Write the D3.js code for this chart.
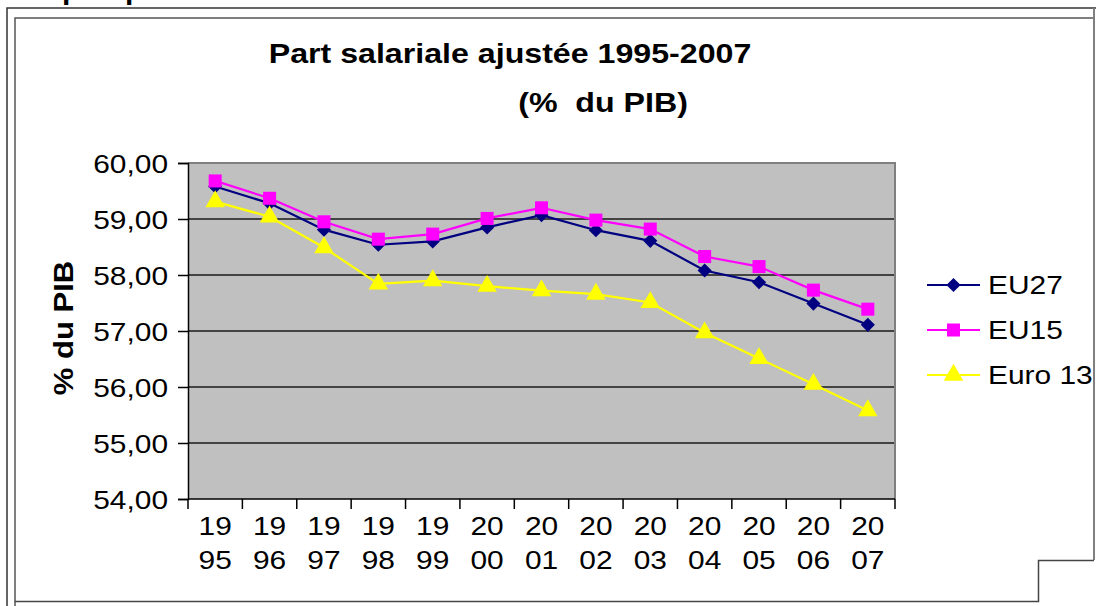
<!DOCTYPE html>
<html>
<head>
<meta charset="utf-8">
<script src="https://cdn.jsdelivr.net/npm/d3@7"></script>
<style>
  body { margin: 0; background: #fff; }
  svg { display: block; font-family: "Liberation Sans", Arial, sans-serif; }
</style>
</head>
<body>
<div id="chart"></div>
<script>
// data
let years = ["1995", "1996", "1997", "1998", "1999", "2000", "2001",
             "2002", "2003", "2004", "2005", "2006", "2007"];
let eu27 = [59.58, 59.28, 58.81, 58.54, 58.60, 58.85, 59.07, 58.80, 58.61, 58.08, 57.87, 57.49, 57.11];
let eu15 = [59.68, 59.37, 58.95, 58.64, 58.73, 59.01, 59.20, 58.98, 58.82, 58.33, 58.15, 57.73, 57.39];
let euro13 = [59.31, 59.04, 58.49, 57.84, 57.90, 57.80, 57.72, 57.66, 57.51, 56.97, 56.51, 56.05, 55.58];
let yTicks = [54, 55, 56, 57, 58, 59, 60];

let seriesNames = ["EU27", "EU15", "Euro 13"];
let seriesValues = [eu27, eu15, euro13];
let seriesColors = ["#000080", "#ff00ff", "#ffff00"];
// diamond = square turned 45 degrees
let seriesSymbols = [d3.symbolSquare, d3.symbolSquare, d3.symbolTriangle];
let seriesTurn = [45, 0, 0];
let markerSizes = [100, 170, 165];

let W = 1096, H = 606;
let plot = { left: 188, right: 895, top: 163, bottom: 499 };
let sx = 1.15; // the original text looks stretched sideways

let svg = d3.select("#chart").append("svg")
  .attr("width", W).attr("height", H);

// frame lines of the pasted chart
svg.append("path").attr("d", "M7,606V8H1096").attr("fill", "none")
  .attr("stroke", "#333").attr("stroke-width", 1.5);
svg.append("path").attr("d", "M15,606V18H1093").attr("fill", "none")
  .attr("stroke", "#555").attr("stroke-width", 1.5);
svg.append("path").attr("d", "M1094,8V560").attr("fill", "none")
  .attr("stroke", "#808080").attr("stroke-width", 2);
svg.append("path").attr("d", "M15,601.5H1038.5V560.5H1094").attr("fill", "none")
  .attr("stroke", "#444").attr("stroke-width", 1.5);

// cut-off text above the frame (clipped in the original too)
svg.append("text").attr("x", 62).attr("y", -1).text("p")
  .style("font-weight", "bold").style("font-size", "30px");
svg.append("text").attr("x", 125).attr("y", -1).text("p")
  .style("font-weight", "bold").style("font-size", "30px");

let x = d3.scaleBand().domain(years).range([plot.left, plot.right]);
let y = d3.scaleLinear().domain([54, 60]).range([plot.bottom, plot.top]);

// plot background
svg.append("rect")
  .attr("x", plot.left).attr("y", plot.top)
  .attr("width", plot.right - plot.left).attr("height", plot.bottom - plot.top)
  .attr("fill", "#c0c0c0");

// gridlines
svg.append("g").selectAll("line")
  .data(yTicks.filter(d => d > 54 && d < 60))
  .enter().append("line")
  .attr("x1", plot.left).attr("x2", plot.right)
  .attr("y1", d => y(d)).attr("y2", d => y(d))
  .attr("stroke", "#1a1a1a").attr("stroke-width", 1.5);

// plot border top and right
svg.append("path")
  .attr("d", "M" + plot.left + "," + y(60) + "H" + plot.right + "V" + plot.bottom)
  .attr("fill", "none").attr("stroke", "#808080").attr("stroke-width", 2);

// y axis
let yAxis = d3.axisLeft(y).tickValues(yTicks).tickSize(10).tickPadding(10)
  .tickFormat(d => d3.format(".2f")(d).replace(".", ","));
let gy = svg.append("g").attr("transform", "translate(" + plot.left + ",0)").call(yAxis);
gy.select(".domain").attr("stroke", "#000").attr("stroke-width", 1.5);
gy.selectAll(".tick line").attr("stroke", "#000").attr("stroke-width", 1.5);
gy.selectAll(".tick text")
  .style("font-size", "26px").style("font-family", "Liberation Sans, Arial, sans-serif")
  .attr("fill", "#000")
  .attr("dy", "0.36em")
  .each(function() {
    let t = d3.select(this);
    t.attr("x", +t.attr("x") / sx).attr("transform", "scale(" + sx + ",1)");
  });

// x axis: baseline and boundary ticks
svg.append("line")
  .attr("x1", plot.left).attr("x2", plot.right)
  .attr("y1", plot.bottom).attr("y2", plot.bottom)
  .attr("stroke", "#000").attr("stroke-width", 1.5);
let bounds = years.map(d => x(d)).concat([x.range()[1]]);
svg.append("g").selectAll("line").data(bounds).enter().append("line")
  .attr("x1", d => d).attr("x2", d => d)
  .attr("y1", plot.bottom).attr("y2", plot.bottom + 10)
  .attr("stroke", "#000").attr("stroke-width", 1.5);

let xl = svg.append("g").selectAll("g").data(years).enter().append("g")
  .attr("transform", d => "translate(" + (x(d) + x.bandwidth() / 2) + ",0) scale(" + sx + ",1)");
xl.append("text").attr("y", 535).attr("text-anchor", "middle")
  .style("font-size", "26px").text(d => d.slice(0, 2));
xl.append("text").attr("y", 569).attr("text-anchor", "middle")
  .style("font-size", "26px").text(d => d.slice(2));

// series
let line = d3.line().x((d, i) => x(years[i]) + x.bandwidth() / 2).y(d => y(d));

seriesValues.forEach((vals, k) => {
  svg.append("path").datum(vals)
    .attr("d", line).attr("fill", "none")
    .attr("stroke", seriesColors[k]).attr("stroke-width", 2.2);
});
seriesValues.forEach((vals, k) => {
  svg.append("g").selectAll("path").data(vals).enter().append("path")
    .attr("transform", (d, i) => "translate(" + (x(years[i]) + x.bandwidth() / 2) + "," + y(d) + ") rotate(" + seriesTurn[k] + ")")
    .attr("d", d3.symbol().type(seriesSymbols[k]).size(markerSizes[k]))
    .attr("fill", seriesColors[k]);
});

// legend
let legY = [285, 330, 375];
let leg = svg.append("g").selectAll("g").data(seriesNames).enter().append("g")
  .attr("transform", (d, i) => "translate(0," + legY[i] + ")");
leg.append("line").attr("x1", 927).attr("x2", 980)
  .attr("stroke", (d, i) => seriesColors[i]).attr("stroke-width", 2.2);
leg.append("path").attr("transform", (d, i) => "translate(953.5,0) rotate(" + seriesTurn[i] + ")")
  .attr("d", (d, i) => d3.symbol().type(seriesSymbols[i]).size(markerSizes[i])())
  .attr("fill", (d, i) => seriesColors[i]);
leg.append("text").attr("transform", "translate(988,9) scale(" + sx + ",1)")
  .style("font-size", "26px").text(d => d);

// titles
svg.append("text").attr("transform", "translate(510,63) scale(" + 1.17 + ",1)")
  .attr("text-anchor", "middle").style("font-weight", "bold").style("font-size", "27.5px")
  .text("Part salariale ajustée 1995-2007");
svg.append("text").attr("transform", "translate(603,112) scale(" + 1.17 + ",1)")
  .attr("text-anchor", "middle").style("font-weight", "bold").style("font-size", "27.5px")
  .style("white-space", "pre")
  .text("(%  du PIB)");

svg.append("text").attr("transform", "translate(73,328) rotate(-90) scale(" + sx + ",1)")
  .attr("text-anchor", "middle").style("font-weight", "bold").style("font-size", "27px")
  .text("% du PIB");
</script>
</body>
</html>
